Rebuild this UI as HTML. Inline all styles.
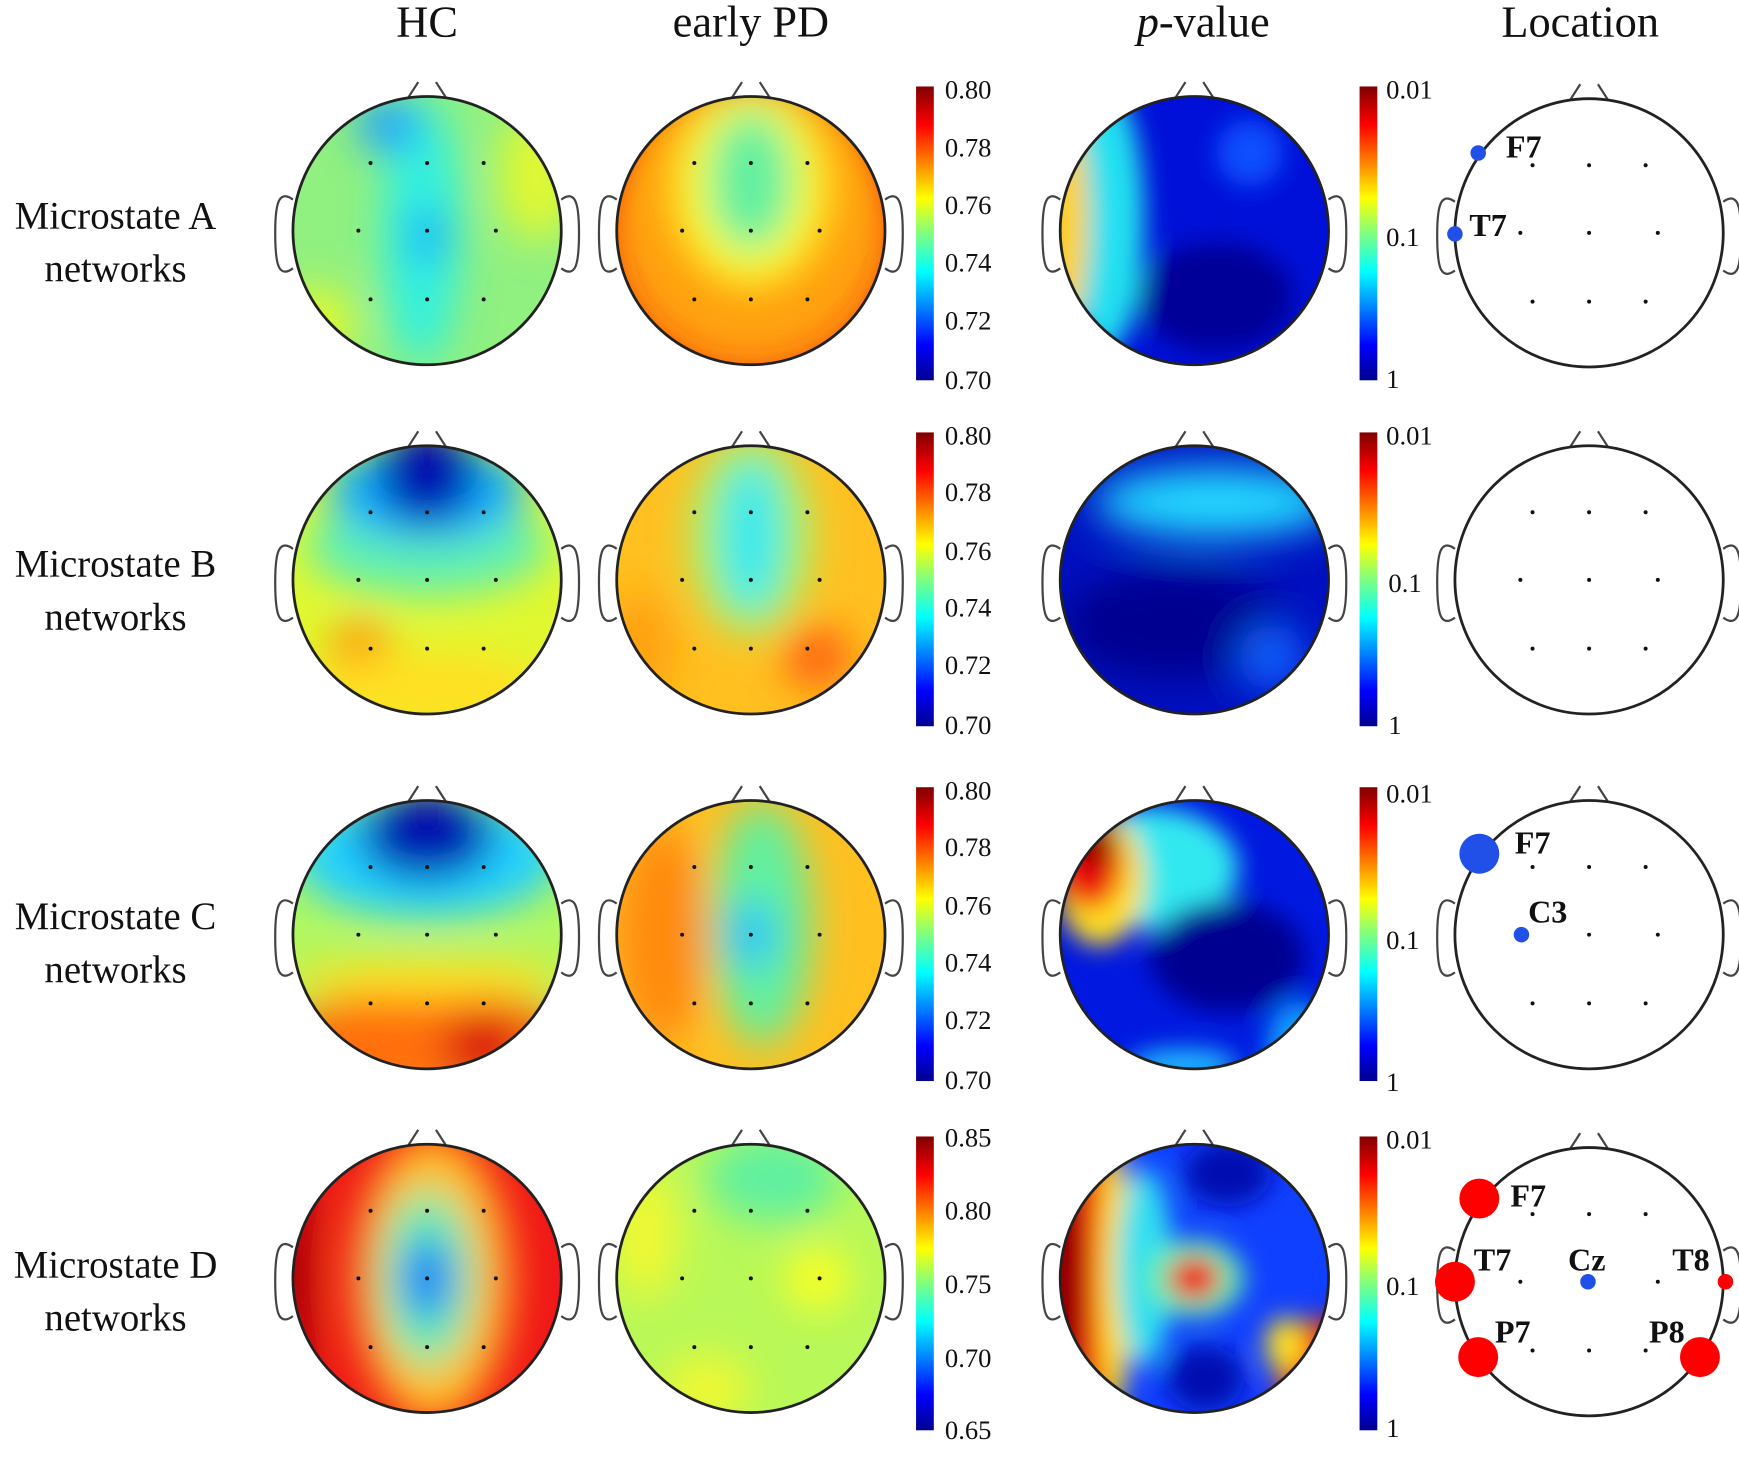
<!DOCTYPE html>
<html><head><meta charset="utf-8"><style>
html,body{margin:0;padding:0;background:#fff;}
svg{display:block;}
svg text{font-family:"Liberation Serif","Times New Roman",Times,serif;}
</style></head><body>
<svg width="1739" height="1468" viewBox="0 0 1568 1324" xmlns="http://www.w3.org/2000/svg">
<defs>
<clipPath id="hc"><circle cx="0" cy="0" r="121"/></clipPath>
<filter id="bl" x="-50%" y="-50%" width="200%" height="200%"><feGaussianBlur stdDeviation="18"/></filter>
<filter id="bs" x="-50%" y="-50%" width="200%" height="200%"><feGaussianBlur stdDeviation="11"/></filter>
<linearGradient id="jet" x1="0" y1="1" x2="0" y2="0">
<stop offset="0" stop-color="#00008f"/><stop offset="0.12" stop-color="#0000ff"/>
<stop offset="0.37" stop-color="#00ffff"/><stop offset="0.5" stop-color="#7fff7f"/>
<stop offset="0.62" stop-color="#ffff00"/><stop offset="0.87" stop-color="#ff0000"/>
<stop offset="1" stop-color="#800000"/></linearGradient>
<g id="out">
<path d="M-17,-120 L-8,-134 M17,-120 L8,-134" stroke="#444" stroke-width="2" fill="none"/>
<path d="M-121,-28 q-8,-6 -12,0 q-4,6 -4,30 q0,26 4,32 q4,6 12,0 M121,-28 q8,-6 12,0 q4,6 4,30 q0,26 -4,32 q-4,6 -12,0" stroke="#444" stroke-width="2" fill="none"/>
<circle r="121" fill="none" stroke="#222" stroke-width="2.5"/>
</g>
<g id="dots" fill="#111">
<circle cx="-51" cy="-61" r="1.8"/><circle cx="0" cy="-61" r="1.8"/><circle cx="51" cy="-61" r="1.8"/>
<circle cx="-62" cy="0" r="1.8"/><circle cx="0" cy="0" r="1.8"/><circle cx="62" cy="0" r="1.8"/>
<circle cx="-51" cy="62" r="1.8"/><circle cx="0" cy="62" r="1.8"/><circle cx="51" cy="62" r="1.8"/>
</g>
</defs>

<g fill="#111">
<text x="385" y="33" font-size="40" text-anchor="middle">HC</text>
<text x="677" y="33" font-size="40" text-anchor="middle">early PD</text>
<text x="1085" y="33" font-size="40" text-anchor="middle"><tspan font-style="italic">p</tspan>-value</text>
<text x="1425" y="33" font-size="40" text-anchor="middle">Location</text>

<g font-size="35" text-anchor="middle">
<text x="104" y="206">Microstate A</text><text x="104" y="254">networks</text>
<text x="104" y="520">Microstate B</text><text x="104" y="568">networks</text>
<text x="104" y="838">Microstate C</text><text x="104" y="886">networks</text>
<text x="104" y="1152">Microstate D</text><text x="104" y="1200">networks</text>
</g>
</g>

<!-- Row A -->
<g transform="translate(385,208)"><g clip-path="url(#hc)"><rect x="-130" y="-130" width="260" height="260" fill="#90f080"/>
<g filter="url(#bl)"><ellipse cx="-5" cy="0" rx="35" ry="120" fill="#30f0e0"/><ellipse cx="-35" cy="-95" rx="28" ry="25" fill="#20a0ff"/><ellipse cx="0" cy="5" rx="15" ry="25" fill="#10a0ff"/><ellipse cx="100" cy="-50" rx="35" ry="60" fill="#e0f830"/><ellipse cx="-100" cy="85" rx="35" ry="35" fill="#e0f830"/></g></g><use href="#out"/><use href="#dots"/></g>
<g transform="translate(677,208)"><g clip-path="url(#hc)"><rect x="-130" y="-130" width="260" height="260" fill="#ffa010"/>
<g filter="url(#bl)"><ellipse cx="0" cy="-40" rx="70" ry="90" fill="#ffff20"/><ellipse cx="0" cy="-45" rx="40" ry="65" fill="#60f0a0"/><circle r="145" fill="none" stroke="#f02000" stroke-width="30"/></g></g><use href="#out"/><use href="#dots"/></g>
<g transform="translate(1077,208)"><g clip-path="url(#hc)"><rect x="-130" y="-130" width="260" height="260" fill="#0010d8"/>
<g filter="url(#bs)"><ellipse cx="-80" cy="-10" rx="35" ry="120" fill="#20e0f0"/><ellipse cx="-118" cy="-10" rx="22" ry="100" fill="#ffd020"/><ellipse cx="20" cy="60" rx="70" ry="50" fill="#000098"/><ellipse cx="50" cy="-70" rx="30" ry="30" fill="#1050ff"/></g></g><use href="#out"/></g>

<!-- Row B -->
<g transform="translate(385,523)"><g clip-path="url(#hc)"><rect x="-130" y="-130" width="260" height="260" fill="#e0f830"/>
<g filter="url(#bl)"><ellipse cx="0" cy="-30" rx="110" ry="45" fill="#60f0b0"/><ellipse cx="0" cy="-80" rx="90" ry="45" fill="#10b0ff"/><ellipse cx="0" cy="-95" rx="45" ry="45" fill="#0010b0"/><ellipse cx="-60" cy="65" rx="28" ry="28" fill="#ff9010"/><ellipse cx="0" cy="100" rx="110" ry="35" fill="#ffe020"/></g></g><use href="#out"/><use href="#dots"/></g>
<g transform="translate(677,523)"><g clip-path="url(#hc)"><rect x="-130" y="-130" width="260" height="260" fill="#ffc020"/>
<g filter="url(#bl)"><ellipse cx="0" cy="-40" rx="55" ry="90" fill="#a0f870"/><ellipse cx="0" cy="-40" rx="28" ry="70" fill="#30e8f0"/><ellipse cx="60" cy="70" rx="30" ry="28" fill="#ff6010"/><ellipse cx="-100" cy="60" rx="30" ry="50" fill="#ffa010"/></g></g><use href="#out"/><use href="#dots"/></g>
<g transform="translate(1077,523)"><g clip-path="url(#hc)"><rect x="-130" y="-130" width="260" height="260" fill="#0010c0"/>
<g filter="url(#bl)"><ellipse cx="20" cy="-70" rx="110" ry="32" fill="#20d8ff"/><ellipse cx="-20" cy="40" rx="100" ry="50" fill="#000090"/><ellipse cx="70" cy="70" rx="30" ry="30" fill="#1060ff"/></g></g><use href="#out"/></g>

<!-- Row C -->
<g transform="translate(385,843)"><g clip-path="url(#hc)"><rect x="-130" y="-130" width="260" height="260" fill="#b0f860"/>
<g filter="url(#bl)"><ellipse cx="0" cy="-70" rx="120" ry="55" fill="#20d0ff"/><ellipse cx="0" cy="-90" rx="60" ry="40" fill="#0010b0"/><ellipse cx="0" cy="100" rx="140" ry="50" fill="#ff7010"/><ellipse cx="50" cy="100" rx="35" ry="30" fill="#d81010"/><ellipse cx="0" cy="40" rx="130" ry="18" fill="#ffe020"/></g></g><use href="#out"/><use href="#dots"/></g>
<g transform="translate(677,843)"><g clip-path="url(#hc)"><rect x="-130" y="-130" width="260" height="260" fill="#ffc020"/>
<g filter="url(#bl)"><ellipse cx="-80" cy="0" rx="40" ry="100" fill="#ff8a10"/><ellipse cx="10" cy="-10" rx="45" ry="110" fill="#60f0a0"/><ellipse cx="0" cy="0" rx="22" ry="30" fill="#20c0ff"/></g></g><use href="#out"/><use href="#dots"/></g>
<g transform="translate(1077,843)"><g clip-path="url(#hc)"><rect x="-130" y="-130" width="260" height="260" fill="#0018e0"/>
<g filter="url(#bs)"><ellipse cx="-40" cy="-60" rx="80" ry="55" fill="#30e8f0"/><ellipse cx="-85" cy="-50" rx="40" ry="60" fill="#ffe020"/><ellipse cx="-95" cy="-65" rx="30" ry="42" fill="#f01010"/><ellipse cx="-90" cy="-85" rx="20" ry="25" fill="#900000"/><ellipse cx="30" cy="20" rx="70" ry="50" fill="#000090"/><ellipse cx="-10" cy="118" rx="50" ry="15" fill="#20c0ff"/><ellipse cx="95" cy="100" rx="30" ry="40" fill="#10a0ff"/></g></g><use href="#out"/></g>

<!-- Row D -->
<g transform="translate(385,1153)"><g clip-path="url(#hc)"><rect x="-130" y="-130" width="260" height="260" fill="#f01818"/>
<g filter="url(#bl)"><ellipse cx="5" cy="0" rx="70" ry="130" fill="#ffc020"/><ellipse cx="0" cy="0" rx="42" ry="80" fill="#60f0b0"/><ellipse cx="0" cy="0" rx="22" ry="38" fill="#1070ff"/><ellipse cx="-125" cy="0" rx="20" ry="120" fill="#a00000"/></g></g><use href="#out"/><use href="#dots"/></g>
<g transform="translate(677,1153)"><g clip-path="url(#hc)"><rect x="-130" y="-130" width="260" height="260" fill="#b8f858"/>
<g filter="url(#bl)"><ellipse cx="20" cy="-90" rx="60" ry="40" fill="#60f0a0"/><ellipse cx="60" cy="0" rx="28" ry="28" fill="#ffff20"/><ellipse cx="-95" cy="-40" rx="30" ry="60" fill="#f0f830"/><ellipse cx="-40" cy="100" rx="40" ry="30" fill="#f0f830"/></g></g><use href="#out"/><use href="#dots"/></g>
<g transform="translate(1077,1153)"><g clip-path="url(#hc)"><rect x="-130" y="-130" width="260" height="260" fill="#1040ff"/>
<g filter="url(#bs)"><ellipse cx="-105" cy="0" rx="40" ry="130" fill="#f01010"/><ellipse cx="-122" cy="0" rx="22" ry="120" fill="#900000"/><ellipse cx="-72" cy="0" rx="15" ry="120" fill="#ffe020"/><ellipse cx="-45" cy="-10" rx="25" ry="90" fill="#30e0f0"/><ellipse cx="30" cy="-95" rx="40" ry="30" fill="#0010b0"/><ellipse cx="10" cy="90" rx="35" ry="30" fill="#0010b0"/><ellipse cx="0" cy="0" rx="45" ry="35" fill="#60f0b0"/><ellipse cx="0" cy="0" rx="24" ry="20" fill="#f01010"/><ellipse cx="115" cy="90" rx="40" ry="55" fill="#f01010"/><ellipse cx="128" cy="100" rx="20" ry="35" fill="#900000"/><ellipse cx="82" cy="60" rx="18" ry="25" fill="#ffe020"/></g></g><use href="#out"/></g>

<!-- colorbars -->
<g>
<rect x="826" y="78" width="16" height="265" fill="url(#jet)"/>
<rect x="826" y="390" width="16" height="265" fill="url(#jet)"/>
<rect x="826" y="710" width="16" height="265" fill="url(#jet)"/>
<rect x="826" y="1025" width="16" height="265" fill="url(#jet)"/>
<rect x="1226" y="78" width="16" height="265" fill="url(#jet)"/>
<rect x="1226" y="390" width="16" height="265" fill="url(#jet)"/>
<rect x="1226" y="710" width="16" height="265" fill="url(#jet)"/>
<rect x="1226" y="1025" width="16" height="265" fill="url(#jet)"/>
</g>
<g font-size="24" fill="#111">
<text x="852" y="89">0.80</text><text x="852" y="141">0.78</text><text x="852" y="193">0.76</text><text x="852" y="245">0.74</text><text x="852" y="297">0.72</text><text x="852" y="351">0.70</text>
<text x="852" y="401">0.80</text><text x="852" y="452">0.78</text><text x="852" y="505">0.76</text><text x="852" y="556">0.74</text><text x="852" y="608">0.72</text><text x="852" y="662">0.70</text>
<text x="852" y="721">0.80</text><text x="852" y="772">0.78</text><text x="852" y="825">0.76</text><text x="852" y="876">0.74</text><text x="852" y="928">0.72</text><text x="852" y="982">0.70</text>
<text x="852" y="1034">0.85</text><text x="852" y="1100">0.80</text><text x="852" y="1166">0.75</text><text x="852" y="1233">0.70</text><text x="852" y="1298">0.65</text>
<text x="1250" y="89">0.01</text><text x="1250" y="222">0.1</text><text x="1250" y="350">1</text>
<text x="1250" y="401">0.01</text><text x="1252" y="534">0.1</text><text x="1252" y="662">1</text>
<text x="1250" y="724">0.01</text><text x="1250" y="856">0.1</text><text x="1250" y="984">1</text>
<text x="1250" y="1036">0.01</text><text x="1250" y="1168">0.1</text><text x="1250" y="1296">1</text>
</g>

<!-- Location heads -->
<g font-size="29" font-weight="bold" fill="#111">
<g transform="translate(1433,210)"><use href="#out"/><use href="#dots"/></g>
<circle cx="1333" cy="138" r="7" fill="#2050e8"/><text x="1358" y="142">F7</text>
<circle cx="1312" cy="211" r="7" fill="#2050e8"/><text x="1325" y="213">T7</text>

<g transform="translate(1433,523)"><use href="#out"/><use href="#dots"/></g>

<g transform="translate(1433,843)"><use href="#out"/><use href="#dots"/></g>
<circle cx="1334" cy="770" r="18" fill="#2050e8"/><text x="1366" y="770">F7</text>
<circle cx="1372" cy="843" r="7" fill="#2050e8"/><text x="1378" y="832">C3</text>

<g transform="translate(1433,1156)"><use href="#out"/><use href="#dots"/></g>
<circle cx="1334" cy="1081" r="18" fill="#ff0000"/><text x="1362" y="1088">F7</text>
<circle cx="1312" cy="1156" r="18" fill="#ff0000"/><text x="1329" y="1146">T7</text>
<circle cx="1432" cy="1156" r="7" fill="#2050e8"/><text x="1414" y="1146">Cz</text>
<circle cx="1556" cy="1156" r="7" fill="#ff0000"/><text x="1508" y="1146">T8</text>
<circle cx="1333" cy="1224" r="18" fill="#ff0000"/><text x="1348" y="1211">P7</text>
<circle cx="1533" cy="1224" r="18" fill="#ff0000"/><text x="1487" y="1211">P8</text>
</g>
</svg>
</body></html>
